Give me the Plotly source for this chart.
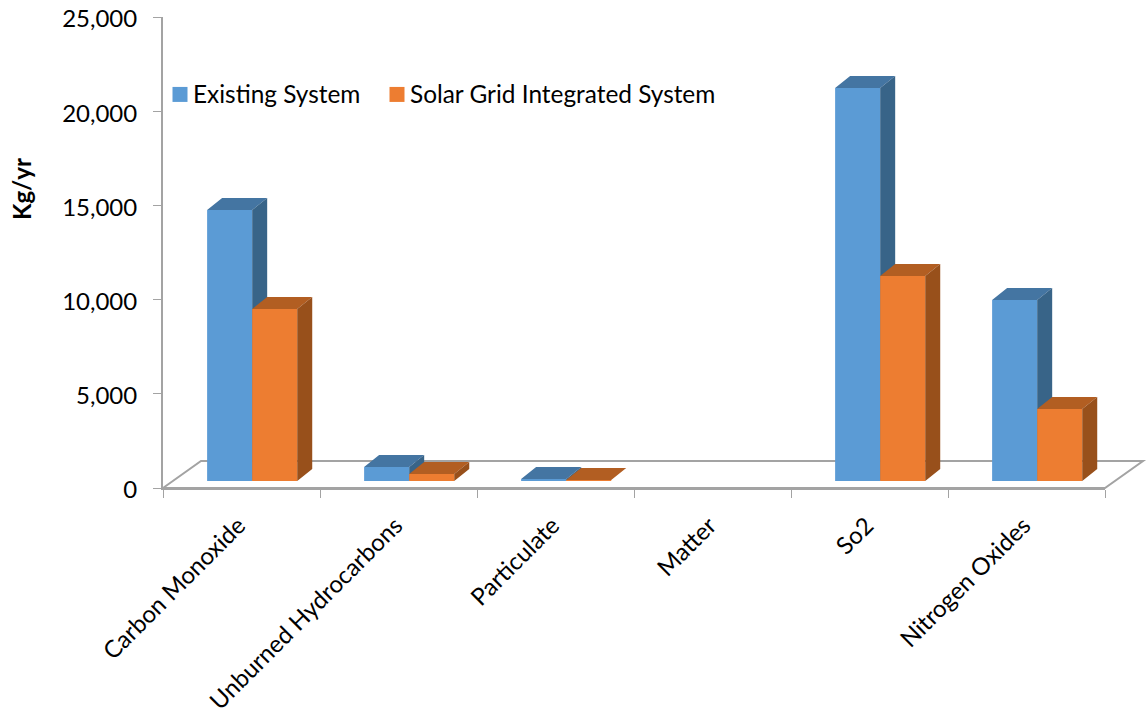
import plotly.graph_objects as go

# Emissions per pollutant, kg/yr
categories = ["Carbon Monoxide", "Unburned Hydrocarbons", "Particulate", "Matter", "So2", "Nitrogen Oxides"]
existing_system = [14380, 740, 110, None, 20860, 9610]
solar_grid_system = [9130, 370, 50, None, 10880, 3820]
series_names = ["Existing System", "Solar Grid Integrated System"]

FONT = "Lato"
AXIS_GREY = "#a3a3a3"

# Pseudo-3D geometry, in axis units (one category slot = 1 on x)
BAR_W = 0.287
BAR_BASE = 372
BAR_START = 0.281
DEPTH_X = 15 / 157
DEPTH_Y = 637
FLOOR_DX = 38 / 157
FLOOR_DY = 1433

# Position of the series key inside the plot area, in axis units
KEY_X = [17 / 157, 234 / 157]
KEY_Y = 20890
KEY_TEXT_DX = 13 / 157
KEY_TEXT_Y = 20780

# Rotated category labels sit slightly left of the slot centre
LABEL_SHIFT = 3 / 157


def faces(values, start):
    """Outline polygons for the top and side faces of a bar series."""
    top_x, top_y, side_x, side_y = [], [], [], []
    for i, v in enumerate(values):
        if v is None:
            continue
        x0 = i + start
        x1 = x0 + BAR_W
        y1 = BAR_BASE + v
        top_x += [x0, x0 + DEPTH_X, x1 + DEPTH_X, x1, x0, None]
        top_y += [y1, y1 + DEPTH_Y, y1 + DEPTH_Y, y1, y1, None]
        side_x += [x1, x1 + DEPTH_X, x1 + DEPTH_X, x1, x1, None]
        side_y += [BAR_BASE, BAR_BASE + DEPTH_Y, y1 + DEPTH_Y, y1, BAR_BASE, None]
    return top_x, top_y, side_x, side_y


def add_series(fig, name, values, start, key_x, front, top, side, xa, ya):
    top_x, top_y, side_x, side_y = faces(values, start)
    fig.add_trace(go.Bar(
        x=[i + start + BAR_W / 2 for i in range(len(values))], y=values, base=BAR_BASE,
        width=BAR_W, marker=dict(color=front, line_width=0), showlegend=False,
        name=name, xaxis=xa, yaxis=ya,
    ))
    for fx, fy, colour in ((top_x, top_y, top), (side_x, side_y, side)):
        fig.add_trace(go.Scatter(
            x=fx, y=fy, mode="lines", fill="toself", fillcolor=colour,
            line=dict(width=0, color=colour), hoverinfo="skip", showlegend=False,
            xaxis=xa, yaxis=ya,
        ))
    # Series key: a coloured square with its name beside it
    fig.add_trace(go.Scatter(
        x=[key_x], y=[KEY_Y], mode="markers", marker=dict(symbol="square", size=15, color=front),
        showlegend=False, hoverinfo="skip", cliponaxis=False, xaxis=xa, yaxis=ya,
    ))
    fig.add_trace(go.Scatter(
        x=[key_x + KEY_TEXT_DX], y=[KEY_TEXT_Y], mode="text", text=[name],
        textposition="middle right", textfont=dict(family=FONT, size=24.4, color="black"),
        showlegend=False, hoverinfo="skip", cliponaxis=False, xaxis=xa, yaxis=ya,
    ))


fig = go.Figure()
add_series(fig, series_names[0], existing_system, BAR_START, KEY_X[0],
           "#5b9bd5", "#4475a2", "#386488", "x", "y")
# The second series sits on an overlaid subplot so its faces cover the first series' side walls
add_series(fig, series_names[1], solar_grid_system, BAR_START + BAR_W, KEY_X[1],
           "#ed7d31", "#b25e22", "#98501b", "x2", "y2")

# Floor of the 3D box
fx = [0, FLOOR_DX, 6 + FLOOR_DX, 6]
fy = [0, FLOOR_DY, FLOOR_DY, 0]
floor_path = "M " + " L ".join(f"{x / 6} {y / 25000}" for x, y in zip(fx, fy)) + " Z"
fig.add_shape(type="path", path=floor_path, xref="paper", yref="paper",
              line=dict(color=AXIS_GREY, width=2), layer="below")

fig.add_annotation(text="<b>Kg/yr</b>", textangle=-90, xref="paper", yref="paper",
                   x=-142 / 942, y=(488 - 189) / 471, xanchor="center", yanchor="middle",
                   showarrow=False, font=dict(family=FONT, size=24, color="black"))

fig.update_layout(
    width=1147, height=713, autosize=False,
    margin=dict(l=163, r=42, t=17, b=225),
    paper_bgcolor="white", plot_bgcolor="white",
    barmode="overlay", showlegend=False,
    font=dict(family=FONT, size=24, color="black"),
    xaxis=dict(
        range=[0, 6], tickmode="array", tickvals=[i + 0.5 - LABEL_SHIFT for i in range(6)],
        ticktext=categories,
        tickangle=-45, ticks="", showgrid=False, zeroline=False, automargin=False,
        showline=True, linecolor=AXIS_GREY, linewidth=2,
        minor=dict(tickmode="array", tickvals=list(range(7)), ticks="outside", ticklen=8,
                   tickcolor=AXIS_GREY, tickwidth=1, showgrid=False),
        tickfont=dict(family=FONT, size=24, color="black"), ticklabelstandoff=12,
    ),
    yaxis=dict(
        range=[0, 25000], tickmode="array", tickvals=[0, 5000, 10000, 15000, 20000, 25000],
        tickformat=",d", ticks="outside", ticklen=8, tickcolor=AXIS_GREY, tickwidth=1,
        showgrid=False, zeroline=False, showline=True, linecolor=AXIS_GREY, linewidth=2,
        automargin=False,
        tickfont=dict(family=FONT, size=24, color="black"), ticklabelstandoff=11, ticklabelshift=2,
    ),
    xaxis2=dict(overlaying="x", matches="x", visible=False),
    yaxis2=dict(overlaying="y", matches="y", visible=False),
)

fig.write_html("out.html")
